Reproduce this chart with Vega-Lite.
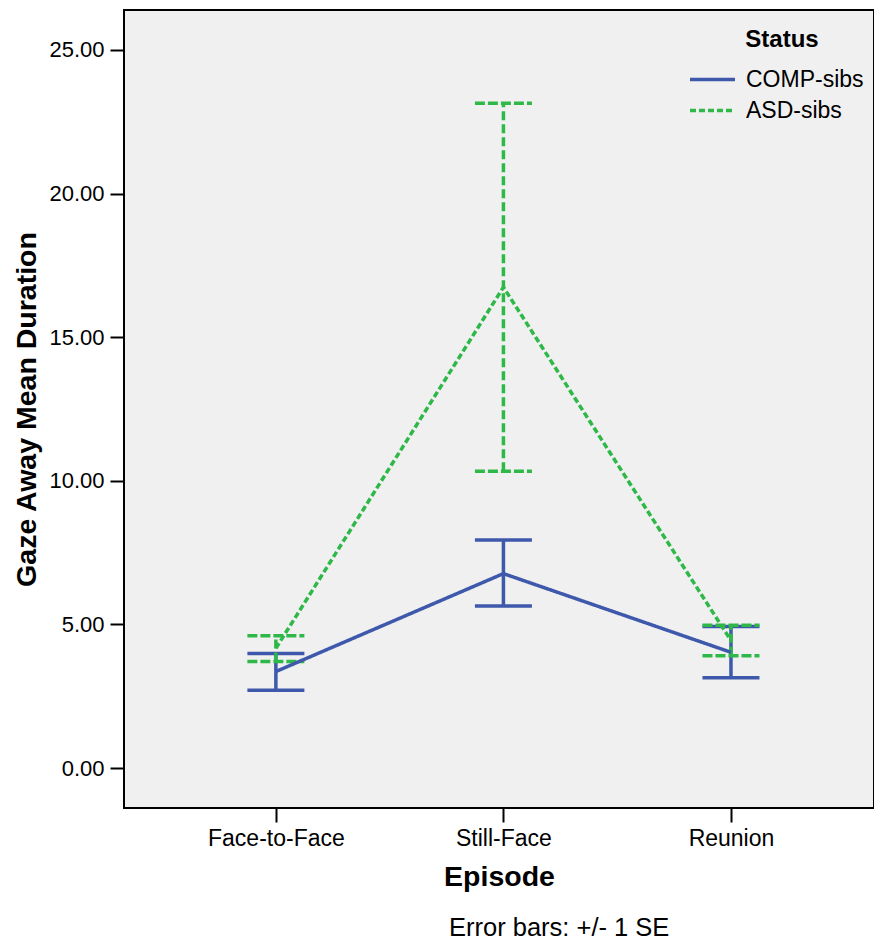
{
  "$schema": "https://vega.github.io/schema/vega-lite/v6.json",
  "width": 750,
  "height": 798,
  "autosize": {"type": "none"},
  "padding": {"left": 124, "top": 10, "right": 0, "bottom": 131},
  "background": "white",
  "config": {
    "view": {"fill": "#F0F0F0", "stroke": "#000000", "strokeWidth": 2},
    "font": "Liberation Sans",
    "axis": {
      "domain": false,
      "grid": false,
      "tickColor": "#000000",
      "tickWidth": 2,
      "tickSize": 14,
      "labelColor": "#000000",
      "titleColor": "#000000",
      "labelFont": "Liberation Sans",
      "titleFont": "Liberation Sans"
    }
  },
  "title": {
    "text": "Error bars: +/- 1 SE",
    "orient": "bottom",
    "anchor": "start",
    "frame": "group",
    "dx": 325,
    "offset": 25,
    "fontSize": 25.5,
    "fontWeight": "normal",
    "font": "Liberation Sans",
    "color": "#000000"
  },
  "data": {
    "values": [
      {"episode": "Face-to-Face", "status": "COMP-sibs", "mean": 3.36, "lo": 2.71, "hi": 3.99},
      {"episode": "Still-Face", "status": "COMP-sibs", "mean": 6.77, "lo": 5.64, "hi": 7.94},
      {"episode": "Reunion", "status": "COMP-sibs", "mean": 4.03, "lo": 3.14, "hi": 4.93},
      {"episode": "Face-to-Face", "status": "ASD-sibs", "mean": 4.17, "lo": 3.71, "hi": 4.61},
      {"episode": "Still-Face", "status": "ASD-sibs", "mean": 16.74, "lo": 10.33, "hi": 23.14},
      {"episode": "Reunion", "status": "ASD-sibs", "mean": 4.44, "lo": 3.91, "hi": 4.97}
    ]
  },
  "encoding": {
    "x": {
      "field": "episode",
      "type": "ordinal",
      "sort": ["Face-to-Face", "Still-Face", "Reunion"],
      "scale": {"type": "point", "padding": 0.648, "align": 0.515},
      "axis": {
        "title": "Episode",
        "labelAngle": 0,
        "labelFontSize": 23,
        "labelPadding": 5,
        "titleFontSize": 28.5,
        "titleFontWeight": "bold",
        "titlePadding": 12
      }
    }
  },
  "layer": [
    {
      "transform": [{"filter": "datum.status === 'COMP-sibs'"}],
      "mark": {"type": "rule", "color": "#3E58AC", "strokeWidth": 3.5},
      "encoding": {
        "y": {"field": "lo", "type": "quantitative"},
        "y2": {"field": "hi"}
      }
    },
    {
      "transform": [{"filter": "datum.status === 'COMP-sibs'"}, {"fold": ["lo", "hi"], "as": ["bound", "val"]}],
      "mark": {"type": "point", "shape": "M-1,0L1,0", "size": 3249, "filled": false, "stroke": "#3E58AC", "strokeWidth": 3.5, "opacity": 1, "strokeCap": "butt"},
      "encoding": {
        "y": {"field": "val", "type": "quantitative"}
      }
    },
    {
      "transform": [{"filter": "datum.status === 'ASD-sibs'"}],
      "mark": {"type": "rule", "color": "#2EB848", "strokeWidth": 3.5, "strokeDash": [9, 4]},
      "encoding": {
        "y": {"field": "lo", "type": "quantitative"},
        "y2": {"field": "hi"}
      }
    },
    {
      "transform": [{"filter": "datum.status === 'ASD-sibs'"}, {"fold": ["lo", "hi"], "as": ["bound", "val"]}],
      "mark": {"type": "point", "shape": "M-1,0L1,0", "size": 3249, "filled": false, "stroke": "#2EB848", "strokeWidth": 3.5, "opacity": 1, "strokeDash": [10, 3], "strokeCap": "butt"},
      "encoding": {
        "y": {"field": "val", "type": "quantitative"}
      }
    },
    {
      "mark": {"type": "line", "strokeWidth": 3.5},
      "encoding": {
        "y": {
          "field": "mean",
          "type": "quantitative",
          "scale": {"domain": [-1.39, 26.39], "nice": false, "zero": false},
          "axis": {
            "title": "Gaze Away Mean Duration",
            "values": [0, 5, 10, 15, 20, 25],
            "format": ".2f",
            "labelFontSize": 22,
            "labelPadding": 6,
            "titleFontSize": 28.5,
            "titleFontWeight": "bold",
            "titlePadding": 7
          }
        },
        "color": {
          "field": "status",
          "type": "nominal",
          "scale": {"domain": ["COMP-sibs", "ASD-sibs"], "range": ["#3E58AC", "#2EB848"]},
          "legend": {
            "title": "Status",
            "orient": "none",
            "legendX": 577,
            "legendY": 18,
            "titleFontSize": 24,
            "titleFontWeight": "bold",
            "titleColor": "#000000",
            "titleAnchor": "middle",
            "titlePadding": 16,
            "labelFontSize": 23,
            "labelColor": "#000000",
            "labelOffset": 22,
            "symbolType": "M-3,0L3,0",
            "symbolSize": 225,
            "symbolStrokeWidth": 3.5,
            "rowPadding": 7
          }
        },
        "strokeDash": {
          "field": "status",
          "type": "nominal",
          "scale": {"domain": ["COMP-sibs", "ASD-sibs"], "range": [[1, 0], [6, 3]]},
          "legend": {
            "title": "Status",
            "orient": "none",
            "legendX": 577,
            "legendY": 18,
            "titleFontSize": 24,
            "titleFontWeight": "bold",
            "titleColor": "#000000",
            "titleAnchor": "middle",
            "titlePadding": 16,
            "labelFontSize": 23,
            "labelColor": "#000000",
            "labelOffset": 22,
            "symbolType": "M-3,0L3,0",
            "symbolSize": 225,
            "symbolStrokeWidth": 3.5,
            "rowPadding": 7
          }
        }
      }
    }
  ]
}
